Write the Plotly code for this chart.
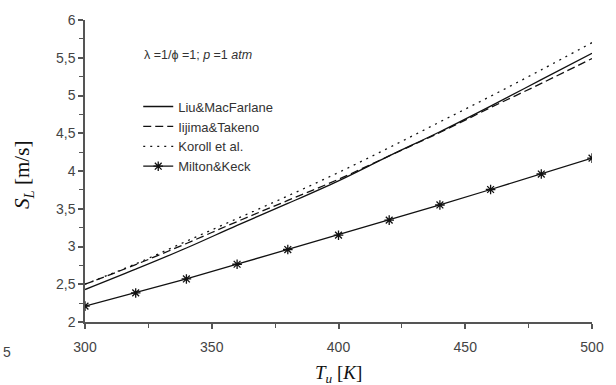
import plotly.graph_objects as go

T = [300, 320, 340, 360, 380, 400, 420, 440, 460, 480, 500]
liu = [2.43, 2.70, 2.98, 3.28, 3.57, 3.87, 4.20, 4.52, 4.86, 5.21, 5.56]
iijima = [2.50, 2.76, 3.04, 3.33, 3.61, 3.89, 4.20, 4.51, 4.84, 5.16, 5.49]
koroll = [2.50, 2.77, 3.07, 3.37, 3.67, 3.98, 4.31, 4.65, 4.99, 5.34, 5.70]
milton = [2.21, 2.385, 2.57, 2.765, 2.96, 3.15, 3.35, 3.55, 3.755, 3.96, 4.17]

x_ticks = [300, 350, 400, 450, 500]
x_ticktext = ["300", "350", "400", "450", "500"]
y_ticks = [2, 2.5, 3, 3.5, 4, 4.5, 5, 5.5, 6]
y_ticktext = ["2", "2,5", "3", "3,5", "4", "4,5", "5", "5,5", "6"]

names = ["Liu&MacFarlane", "Iijima&Takeno", "Koroll et al.", "Milton&Keck"]

fig = go.Figure()
fig.add_trace(go.Scatter(x=T, y=liu, name=names[0], mode="lines",
                         line=dict(color="#111", width=1.3, shape="spline")))
fig.add_trace(go.Scatter(x=T, y=iijima, name=names[1], mode="lines",
                         line=dict(color="#111", width=1.3, dash="8px,4px", shape="spline")))
fig.add_trace(go.Scatter(x=T, y=koroll, name=names[2], mode="lines",
                         line=dict(color="#111", width=1.3, dash="2px,5px", shape="spline")))
fig.add_trace(go.Scatter(x=T, y=milton, name=names[3], mode="lines+markers",
                         line=dict(color="#111", width=1.3),
                         marker=dict(symbol="asterisk-open", size=8,
                                     line=dict(color="#111", width=1.3))))

axis_common = dict(showgrid=False, zeroline=False, showline=True, linecolor="#555",
                   linewidth=1.5, ticks="outside", tickcolor="#555", tickwidth=1.5,
                   ticklen=5, tickfont=dict(family="Liberation Sans, Arial", size=14, color="#444"))

fig.update_xaxes(range=[300, 500], tickvals=x_ticks, ticktext=x_ticktext,
                 ticklabelstandoff=6,
                 minor=dict(ticks="outside", dtick=25, tick0=300, ticklen=4,
                            tickcolor="#555", tickwidth=1.2),
                 **axis_common)
fig.update_yaxes(range=[2, 6], tickvals=y_ticks, ticktext=y_ticktext,
                 minor=dict(ticks="outside", dtick=0.25, tick0=2, ticklen=4,
                            tickcolor="#555", tickwidth=1.2),
                 **axis_common)

fig.update_layout(
    width=616, height=385,
    margin=dict(l=85, r=12, t=20, b=63),
    plot_bgcolor="white", paper_bgcolor="white",
    showlegend=True,
    legend=dict(x=0.105, y=0.763, xanchor="left", yanchor="top",
                bgcolor="rgba(0,0,0,0)",
                font=dict(family="Liberation Sans, Arial", size=13, color="#333"),
                tracegroupgap=0, itemwidth=30),
    annotations=[
        dict(text="λ =1/ϕ =1; <i>p</i> =1 <i>atm</i>",
             x=300 + (143 - 85) / 2.595, y=(321.7 - 55) / 301.7, xref="x", yref="paper",
             showarrow=False, xanchor="left", yanchor="middle",
             font=dict(family="Liberation Sans, Arial", size=12.5, color="#333")),
        dict(text="<i>S</i><sub><i>L</i></sub> [m/s]", x=-0.121, y=0.486, xref="paper", yref="paper",
             textangle=-90, showarrow=False, xanchor="center", yanchor="middle",
             font=dict(family="Liberation Serif, serif", size=21, color="#111")),
        dict(text="<i>T</i><sub><i>u</i></sub> [<i>K</i>]", x=0.5, y=-0.126, xref="paper", yref="paper",
             showarrow=False, xanchor="center", yanchor="top",
             font=dict(family="Liberation Serif, serif", size=19, color="#111")),
        dict(text="5", x=-0.154, y=-0.10, xref="paper", yref="paper",
             showarrow=False, xanchor="center", yanchor="middle",
             font=dict(family="Liberation Sans, Arial", size=14, color="#444")),
    ],
)

fig.write_html("out.html")
